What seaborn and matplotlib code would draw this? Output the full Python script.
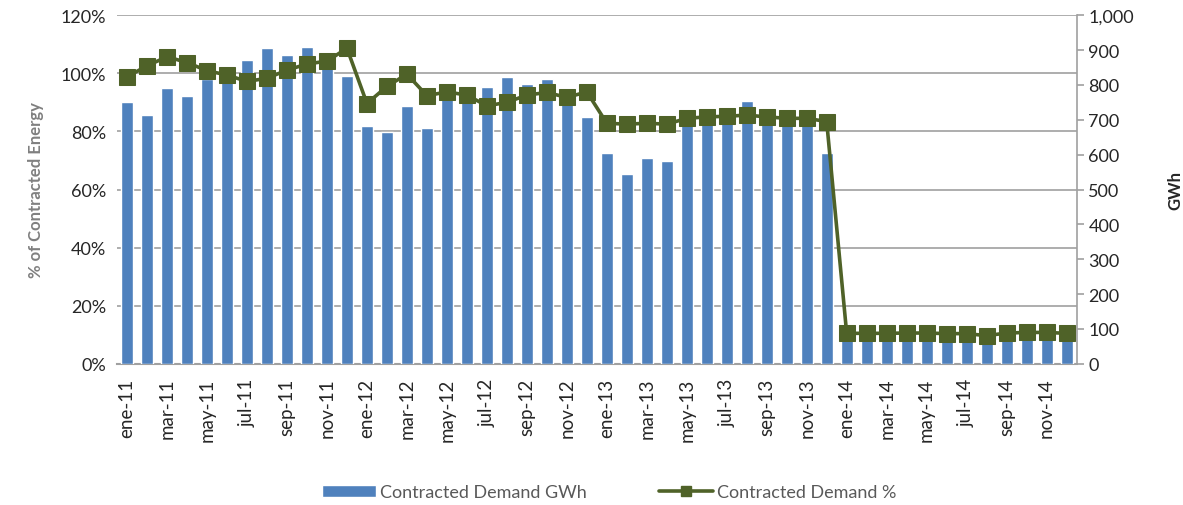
import numpy as np
import pandas as pd
import seaborn as sns
import matplotlib.pyplot as plt
from matplotlib.ticker import FuncFormatter, PercentFormatter
from matplotlib.lines import Line2D
from matplotlib.patches import Patch

# Meses (ene-11 .. dic-14)
meses = ["ene", "feb", "mar", "abr", "may", "jun", "jul", "ago", "sep", "oct", "nov", "dic"]
anios = ["11", "12", "13", "14"]
etiquetas = [f"{m}-{a}" for a in anios for m in meses]

# Demanda contratada (GWh) - eje derecho
gwh = [750, 713, 790, 768, 818, 815, 872, 905, 886, 909, 862, 827,
       682, 664, 740, 677, 765, 760, 795, 822, 803, 818, 750, 709,
       604, 544, 589, 581, 690, 700, 735, 754, 705, 695, 695, 604,
       80, 78, 76, 78, 77, 75, 76, 78, 80, 82, 80, 78]

# Demanda contratada (%) - eje izquierdo
pct = [98.8, 102.6, 105.7, 103.7, 100.9, 99.4, 97.2, 98.3, 101.1, 103.2, 104.2, 108.6,
       89.6, 95.5, 99.7, 92.3, 93.6, 92.5, 88.8, 90.0, 92.5, 93.4, 91.7, 93.6,
       82.8, 82.5, 82.8, 82.5, 84.5, 85.0, 85.2, 85.6, 85.0, 84.5, 84.5, 83.4,
       10.5, 10.5, 10.5, 10.6, 10.6, 10.4, 10.4, 9.7, 10.6, 10.8, 10.8, 10.5]

df = pd.DataFrame({"Mes": etiquetas, "GWh": gwh, "Pct": np.array(pct) / 100})
df["pos"] = np.arange(len(df))

azul = "#4F81BD"
verde = "#4F6228"
gris = "#A0A0A0"

sns.set_style("white")
plt.rcParams["font.family"] = ["Lato", "DejaVu Sans"]

fig = plt.figure(figsize=(11.83, 5.06), dpi=100)
ax = fig.add_axes([0.099, 0.279, 0.811, 0.689])

# eje % (izquierdo) con rejilla
ax.set_ylim(0, 1.2)
ax.set_yticks(np.arange(0, 1.21, 0.2))
ax.yaxis.set_major_formatter(PercentFormatter(1.0, decimals=0))
ax.grid(axis="y", color=gris, linewidth=1.2)
ax.set_axisbelow(True)
ax.set_ylabel("% of Contracted Energy", fontsize=12, fontweight="bold", color="#808080", labelpad=12)

# barras GWh (eje derecho)
ax2 = ax.twinx()
sns.barplot(data=df, x="Mes", y="GWh", color=azul, width=0.6, saturation=1, ax=ax2)
ax2.set_ylim(0, 1000)
ax2.set_yticks(np.arange(0, 1001, 100))
ax2.yaxis.set_major_formatter(FuncFormatter(lambda v, p: f"{int(v):,}"))
ax2.set_ylabel("GWh", fontsize=12, fontweight="bold", labelpad=24)
ax2.tick_params(axis="y", direction="out", length=5, color=gris, width=1.2, right=True,
                labelsize=13)

# linea % encima de las barras
ax3 = ax.twinx()
sns.lineplot(data=df, x="pos", y="Pct", color=verde, marker="s", markersize=11,
             markeredgecolor=verde, linewidth=2.6, ax=ax3)
ax3.set_ylim(0, 1.2)
ax3.set_yticks([])
ax3.set_ylabel("")

for a in (ax, ax2, ax3):
    for s in a.spines.values():
        s.set_visible(False)

ax2.spines["right"].set_visible(True)
ax2.spines["right"].set_color(gris)
ax2.spines["right"].set_linewidth(1.2)
ax.spines["bottom"].set_visible(True)
ax.spines["bottom"].set_color(gris)
ax.spines["bottom"].set_linewidth(1.5)

# eje x compartido: etiquetas cada dos meses
ax.set_xlim(-0.5, len(df) - 0.5)
ax.set_xticks(df["pos"][::2])
ax.set_xticklabels(df["Mes"][::2], rotation=90, fontsize=13.5)
ax.set_xlabel("")
ax.tick_params(axis="x", length=0, pad=10)
ax.tick_params(axis="y", length=0, labelsize=13, pad=8)

handles = [Patch(facecolor=azul, label="Contracted Demand GWh"),
           Line2D([0], [0], color=verde, marker="s", markersize=7, linewidth=2.6,
                  label="Contracted Demand %")]
fig.legend(handles=handles, loc="center", bbox_to_anchor=(0.515, 0.025), ncol=2,
           frameon=False, fontsize=13, labelcolor="#595959", handlelength=3.0,
           handletextpad=0.2, columnspacing=4.0)

fig.savefig("out.png", dpi=100)
